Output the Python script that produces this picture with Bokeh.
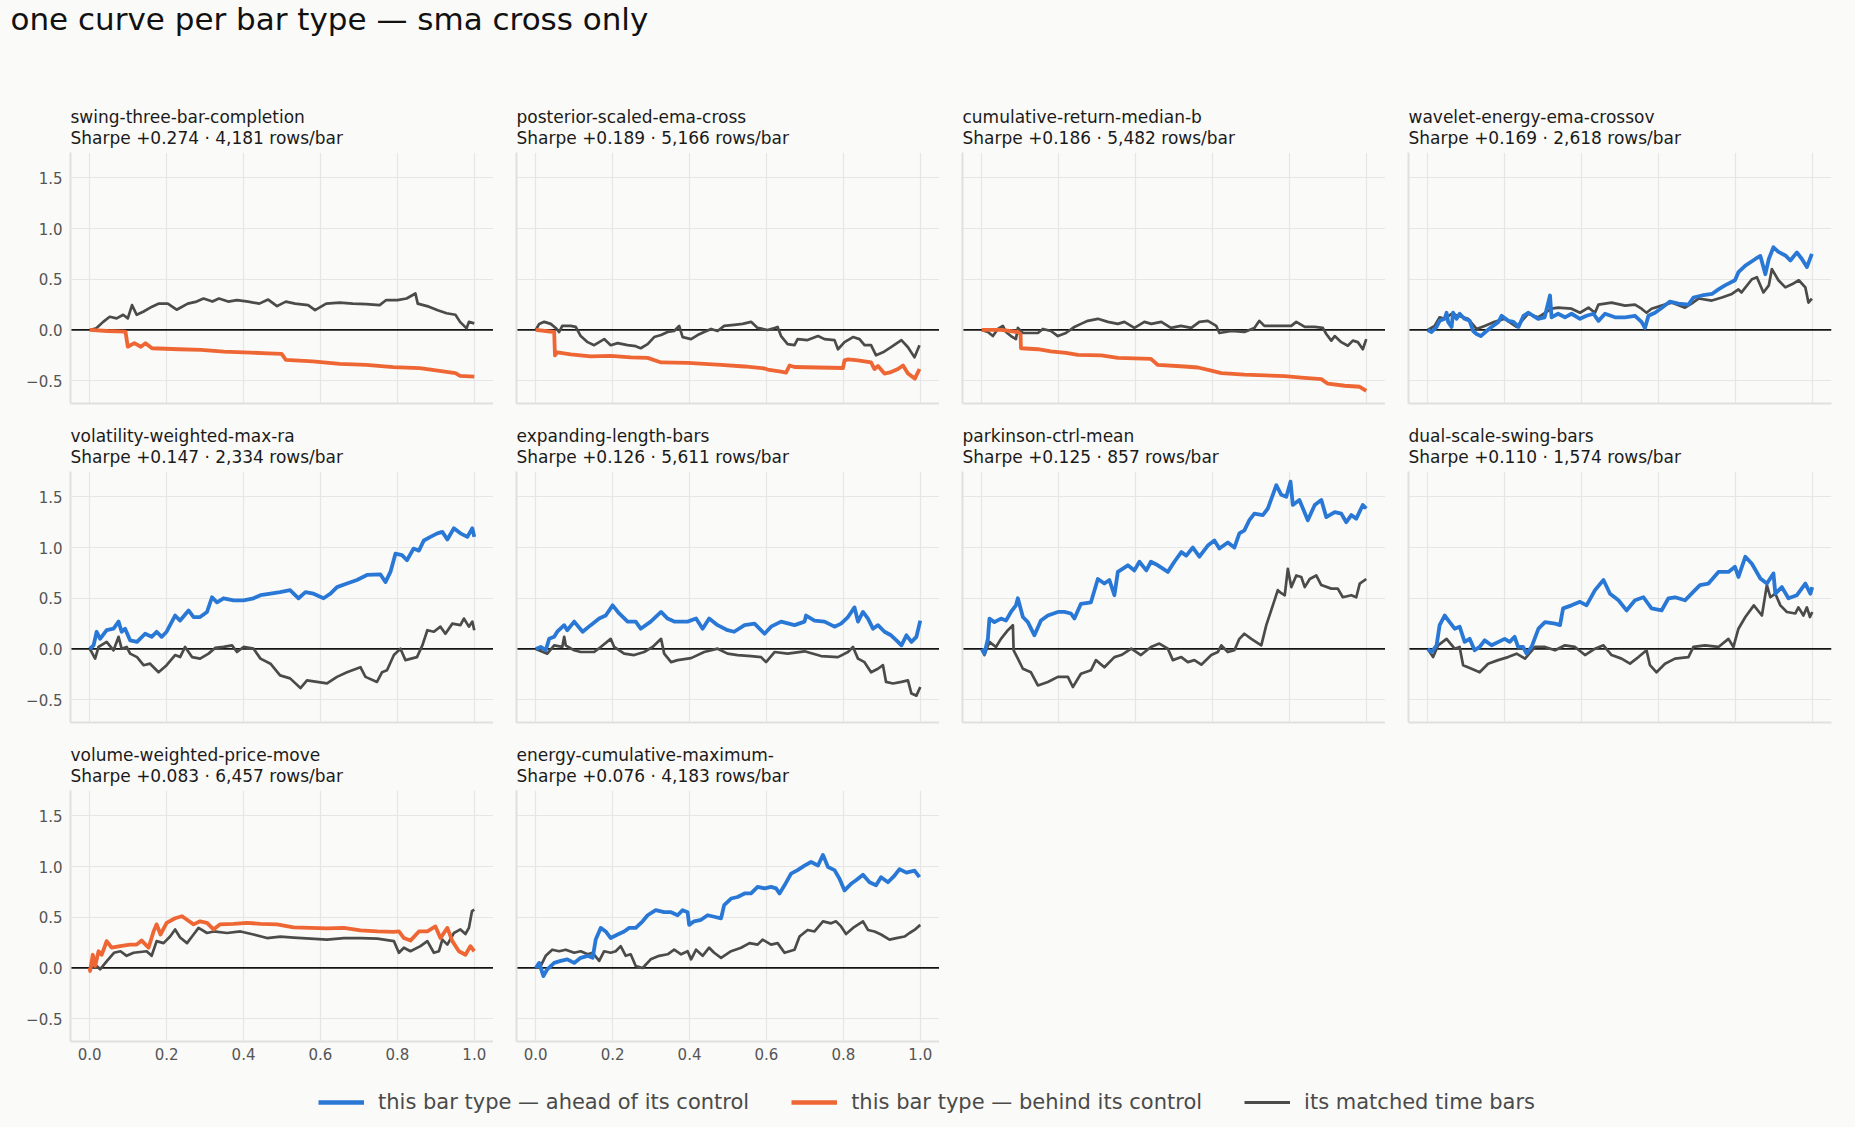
from bokeh.plotting import figure
from bokeh.layouts import gridplot, column
from bokeh.models import (Span, Title, Legend, LegendItem, FixedTicker, Range1d, ColumnDataSource,
                          PrintfTickFormatter, Label)
from bokeh.embed import file_html
from bokeh.resources import INLINE

# ---------------- data ----------------
CHART_TITLE = "one curve per bar type — sma cross only"
NAMES = ["swing-three-bar-completion", "posterior-scaled-ema-cross", "cumulative-return-median-b",
         "wavelet-energy-ema-crossov", "volatility-weighted-max-ra", "expanding-length-bars",
         "parkinson-ctrl-mean", "dual-scale-swing-bars", "volume-weighted-price-move",
         "energy-cumulative-maximum-"]
SHARPE = [0.274, 0.189, 0.186, 0.169, 0.147, 0.126, 0.125, 0.110, 0.083, 0.076]
ROWS_PER_BAR = [4181, 5166, 5482, 2618, 2334, 5611, 857, 1574, 6457, 4183]
LEGEND_LABELS = ["this bar type — ahead of its control",
                 "this bar type — behind its control",
                 "its matched time bars"]
X_TICKS = [0.0, 0.2, 0.4, 0.6, 0.8, 1.0]
Y_TICKS = [-0.5, 0.0, 0.5, 1.0, 1.5]
Y_TICK_LABELS = ["−0.5", "0.0", "0.5", "1.0", "1.5"]

P1_BAR_X = [0, 0.046, 0.093, 0.099, 0.116, 0.133, 0.145, 0.162, 0.232, 0.290, 0.348, 0.418, 0.464, 0.499,
            0.510, 0.580, 0.650, 0.719, 0.789, 0.858, 0.905, 0.951, 0.963, 1.0]
P1_BAR_Y = [0, -0.01, -0.016, -0.165, -0.13, -0.165, -0.13, -0.18, -0.19, -0.197, -0.213, -0.223, -0.23,
            -0.236, -0.295, -0.31, -0.335, -0.345, -0.367, -0.377, -0.40, -0.426, -0.452, -0.459]
P1_CTRL_X = [0, 0.017, 0.035, 0.052, 0.070, 0.087, 0.099, 0.110, 0.122, 0.139, 0.162, 0.180, 0.203, 0.226,
             0.255, 0.278, 0.296, 0.319, 0.336, 0.360, 0.383, 0.412, 0.441, 0.464, 0.487, 0.510, 0.534,
             0.568, 0.586, 0.615, 0.650, 0.684, 0.719, 0.754, 0.771, 0.800, 0.824, 0.847, 0.853, 0.882,
             0.905, 0.928, 0.951, 0.963, 0.980, 0.986, 1.0]
P1_CTRL_Y = [0, 0.016, 0.08, 0.13, 0.115, 0.15, 0.115, 0.245, 0.15, 0.18, 0.23, 0.26, 0.26, 0.20, 0.26,
             0.28, 0.31, 0.28, 0.31, 0.28, 0.295, 0.28, 0.26, 0.30, 0.235, 0.28, 0.26, 0.245, 0.195, 0.26,
             0.27, 0.26, 0.255, 0.245, 0.295, 0.295, 0.31, 0.36, 0.26, 0.23, 0.195, 0.165, 0.15, 0.08,
             0.016, 0.08, 0.065]

P2_BAR_X = [0, 0.048, 0.050, 0.056, 0.091, 0.143, 0.195, 0.247, 0.291, 0.326, 0.395, 0.482, 0.543, 0.595,
            0.603, 0.638, 0.651, 0.660, 0.673, 0.734, 0.799, 0.803, 0.812, 0.838, 0.872, 0.881, 0.890,
            0.907, 0.924, 0.942, 0.955, 0.968, 0.986, 0.998]
P2_BAR_Y = [0, -0.02, -0.25, -0.22, -0.24, -0.26, -0.255, -0.27, -0.275, -0.32, -0.325, -0.345, -0.36,
            -0.38, -0.39, -0.41, -0.42, -0.35, -0.365, -0.37, -0.375, -0.30, -0.29, -0.30, -0.32, -0.385,
            -0.355, -0.43, -0.415, -0.385, -0.35, -0.43, -0.48, -0.385]
P2_CTRL_X = [0, 0.009, 0.022, 0.039, 0.052, 0.061, 0.069, 0.091, 0.104, 0.117, 0.135, 0.152, 0.165, 0.178,
             0.195, 0.213, 0.239, 0.260, 0.273, 0.291, 0.308, 0.326, 0.343, 0.360, 0.373, 0.382, 0.404,
             0.421, 0.438, 0.456, 0.473, 0.490, 0.516, 0.538, 0.560, 0.577, 0.603, 0.621, 0.629, 0.638,
             0.655, 0.673, 0.681, 0.707, 0.734, 0.751, 0.777, 0.786, 0.803, 0.825, 0.842, 0.855, 0.872,
             0.885, 0.903, 0.924, 0.951, 0.968, 0.985, 0.998]
P2_CTRL_Y = [0, 0.06, 0.08, 0.06, 0.02, -0.02, 0.04, 0.04, 0.03, -0.06, -0.12, -0.15, -0.12, -0.09, -0.15,
             -0.13, -0.15, -0.16, -0.18, -0.14, -0.07, -0.05, -0.02, -0.01, 0.04, -0.07, -0.09, -0.05,
             -0.02, 0.01, -0.01, 0.04, 0.05, 0.06, 0.08, 0.02, 0, 0.02, 0.03, -0.06, -0.14, -0.15, -0.09,
             -0.10, -0.06, -0.09, -0.10, -0.19, -0.12, -0.07, -0.09, -0.15, -0.15, -0.25, -0.22, -0.17,
             -0.10, -0.17, -0.27, -0.15]

P3_BAR_X = [0, 0.050, 0.094, 0.101, 0.102, 0.146, 0.180, 0.219, 0.250, 0.311, 0.354, 0.440, 0.458, 0.527,
            0.562, 0.597, 0.623, 0.683, 0.788, 0.831, 0.883, 0.900, 0.944, 0.983, 1.0]
P3_BAR_Y = [0, 0, -0.02, -0.04, -0.18, -0.19, -0.21, -0.225, -0.245, -0.25, -0.275, -0.285, -0.345, -0.36,
            -0.37, -0.40, -0.425, -0.44, -0.455, -0.47, -0.485, -0.53, -0.55, -0.56, -0.60]
P3_CTRL_X = [0, 0.016, 0.029, 0.042, 0.055, 0.063, 0.076, 0.089, 0.094, 0.107, 0.146, 0.159, 0.180, 0.198,
             0.219, 0.241, 0.258, 0.276, 0.302, 0.328, 0.354, 0.371, 0.397, 0.423, 0.441, 0.467, 0.492,
             0.518, 0.545, 0.566, 0.588, 0.610, 0.618, 0.649, 0.683, 0.709, 0.722, 0.735, 0.805, 0.818,
             0.840, 0.866, 0.887, 0.896, 0.909, 0.918, 0.935, 0.952, 0.965, 0.978, 0.991, 1.0]
P3_CTRL_Y = [0, -0.02, -0.06, 0.01, 0.04, -0.02, -0.06, -0.09, 0.02, -0.03, -0.03, 0.01, -0.01, -0.06,
             -0.03, 0.03, 0.06, 0.09, 0.11, 0.08, 0.06, 0.08, 0.02, 0.08, 0.06, 0.08, 0.02, 0.04, 0.02,
             0.08, 0.09, 0.04, -0.03, -0.01, -0.02, 0.02, 0.09, 0.04, 0.04, 0.08, 0.03, 0.03, 0.02, -0.04,
             -0.105, -0.06, -0.12, -0.155, -0.105, -0.12, -0.19, -0.09]

P4_BAR_X = [0, 0.010, 0.023, 0.031, 0.044, 0.049, 0.053, 0.062, 0.066, 0.075, 0.083, 0.096, 0.109, 0.118,
            0.127, 0.138, 0.153, 0.166, 0.184, 0.192, 0.210, 0.223, 0.236, 0.249, 0.262, 0.274, 0.287,
            0.304, 0.318, 0.322, 0.339, 0.357, 0.374, 0.396, 0.413, 0.431, 0.444, 0.461, 0.487, 0.513,
            0.539, 0.556, 0.565, 0.574, 0.591, 0.609, 0.630, 0.652, 0.678, 0.691, 0.713, 0.739, 0.756,
            0.773, 0.799, 0.808, 0.826, 0.852, 0.865, 0.878, 0.887, 0.899, 0.912, 0.930, 0.943, 0.960,
            0.973, 0.986, 0.999]
P4_BAR_Y = [0, -0.02, 0.03, 0.09, 0.11, 0.17, 0.08, 0.03, 0.17, 0.11, 0.16, 0.11, 0.09, -0.01, -0.04, -0.06,
            -0.01, 0.03, 0.08, 0.14, 0.09, 0.08, 0.03, 0.14, 0.17, 0.14, 0.11, 0.125, 0.34, 0.125, 0.16,
            0.125, 0.16, 0.11, 0.14, 0.16, 0.09, 0.16, 0.125, 0.125, 0.14, 0.08, 0.02, 0.14, 0.17, 0.22,
            0.28, 0.26, 0.25, 0.32, 0.34, 0.355, 0.40, 0.44, 0.49, 0.57, 0.635, 0.70, 0.73, 0.55, 0.70,
            0.815, 0.77, 0.735, 0.685, 0.765, 0.70, 0.62, 0.75]
P4_CTRL_X = [0, 0.018, 0.031, 0.044, 0.062, 0.079, 0.105, 0.127, 0.148, 0.174, 0.200, 0.231, 0.261, 0.287,
             0.322, 0.339, 0.374, 0.396, 0.418, 0.435, 0.444, 0.478, 0.513, 0.539, 0.556, 0.569, 0.582,
             0.608, 0.634, 0.669, 0.686, 0.704, 0.739, 0.765, 0.791, 0.808, 0.816, 0.843, 0.856, 0.873,
             0.887, 0.895, 0.912, 0.930, 0.947, 0.965, 0.982, 0.990, 0.999]
P4_CTRL_Y = [0, 0.04, 0.125, 0.11, 0.16, 0.14, 0.11, 0.01, 0.04, 0.08, 0.11, 0.03, 0.16, 0.125, 0.21, 0.22,
             0.21, 0.17, 0.22, 0.17, 0.25, 0.27, 0.24, 0.25, 0.21, 0.17, 0.21, 0.24, 0.27, 0.22, 0.26,
             0.31, 0.29, 0.32, 0.355, 0.40, 0.37, 0.50, 0.52, 0.37, 0.44, 0.60, 0.49, 0.42, 0.45, 0.49,
             0.42, 0.27, 0.31]

P5_BAR_X = [0, 0.010, 0.018, 0.027, 0.044, 0.062, 0.075, 0.083, 0.092, 0.105, 0.123, 0.144, 0.161, 0.174,
            0.187, 0.200, 0.222, 0.235, 0.257, 0.270, 0.287, 0.305, 0.318, 0.331, 0.348, 0.374, 0.400,
            0.426, 0.444, 0.470, 0.495, 0.521, 0.543, 0.561, 0.582, 0.608, 0.626, 0.643, 0.669, 0.695,
            0.721, 0.756, 0.769, 0.782, 0.795, 0.812, 0.825, 0.842, 0.856, 0.869, 0.886, 0.904, 0.917,
            0.930, 0.947, 0.964, 0.982, 0.995, 1.0]
P5_BAR_Y = [0, 0.035, 0.17, 0.10, 0.185, 0.20, 0.27, 0.17, 0.20, 0.085, 0.07, 0.15, 0.12, 0.17, 0.12, 0.17,
            0.33, 0.28, 0.38, 0.315, 0.315, 0.365, 0.51, 0.46, 0.50, 0.48, 0.48, 0.50, 0.53, 0.545, 0.56,
            0.58, 0.50, 0.56, 0.545, 0.50, 0.545, 0.61, 0.645, 0.68, 0.73, 0.735, 0.66, 0.76, 0.94, 0.925,
            0.875, 0.99, 0.97, 1.07, 1.105, 1.14, 1.155, 1.08, 1.19, 1.14, 1.105, 1.19, 1.105]
P5_CTRL_X = [0, 0.005, 0.014, 0.023, 0.044, 0.062, 0.075, 0.083, 0.096, 0.105, 0.123, 0.140, 0.157, 0.179,
             0.200, 0.222, 0.235, 0.248, 0.266, 0.287, 0.309, 0.326, 0.348, 0.370, 0.383, 0.400, 0.426,
             0.444, 0.470, 0.495, 0.521, 0.548, 0.565, 0.591, 0.617, 0.643, 0.669, 0.704, 0.717, 0.747,
             0.760, 0.773, 0.791, 0.808, 0.821, 0.851, 0.865, 0.878, 0.895, 0.912, 0.925, 0.943, 0.964,
             0.973, 0.986, 0.995, 1.0]
P5_CTRL_Y = [0, -0.03, -0.095, 0.02, 0.07, -0.013, 0.12, 0.003, 0.02, -0.046, -0.08, -0.16, -0.145, -0.23,
             -0.16, -0.06, -0.08, 0.02, -0.08, -0.095, -0.046, 0.01, 0.02, 0.036, -0.03, 0.02, 0.003,
             -0.095, -0.145, -0.26, -0.29, -0.385, -0.31, -0.325, -0.34, -0.275, -0.23, -0.18, -0.275,
             -0.325, -0.23, -0.21, -0.06, 0.003, -0.11, -0.08, 0.036, 0.185, 0.17, 0.22, 0.15, 0.25, 0.235,
             0.30, 0.22, 0.27, 0.185]

P6_BAR_X = [0, 0.013, 0.026, 0.035, 0.048, 0.056, 0.074, 0.082, 0.100, 0.122, 0.143, 0.165, 0.182, 0.200,
            0.217, 0.239, 0.260, 0.273, 0.299, 0.326, 0.343, 0.360, 0.395, 0.417, 0.434, 0.451, 0.473,
            0.499, 0.516, 0.543, 0.569, 0.595, 0.612, 0.638, 0.673, 0.699, 0.703, 0.725, 0.751, 0.777,
            0.794, 0.812, 0.829, 0.838, 0.851, 0.864, 0.877, 0.890, 0.907, 0.924, 0.938, 0.951, 0.964,
            0.977, 0.990, 1.0]
P6_BAR_Y = [0, 0.02, -0.013, 0.10, 0.12, 0.17, 0.235, 0.185, 0.27, 0.17, 0.235, 0.30, 0.33, 0.43, 0.35,
            0.27, 0.27, 0.20, 0.27, 0.365, 0.30, 0.27, 0.27, 0.30, 0.20, 0.30, 0.235, 0.185, 0.17, 0.235,
            0.25, 0.15, 0.22, 0.27, 0.235, 0.27, 0.33, 0.28, 0.27, 0.22, 0.25, 0.315, 0.41, 0.27, 0.365,
            0.30, 0.20, 0.235, 0.17, 0.135, 0.085, 0.036, 0.135, 0.07, 0.12, 0.28]
P6_CTRL_X = [0, 0.030, 0.048, 0.069, 0.074, 0.078, 0.100, 0.117, 0.152, 0.169, 0.195, 0.204, 0.230, 0.256,
             0.282, 0.304, 0.326, 0.334, 0.352, 0.369, 0.404, 0.438, 0.473, 0.499, 0.525, 0.560, 0.586,
             0.599, 0.621, 0.655, 0.699, 0.742, 0.786, 0.812, 0.825, 0.838, 0.855, 0.872, 0.890, 0.903,
             0.911, 0.929, 0.951, 0.968, 0.977, 0.990, 1.0]
P6_CTRL_Y = [0, -0.046, 0.036, 0.02, 0.12, 0.036, -0.013, -0.03, -0.03, 0.02, 0.10, 0.02, -0.046, -0.06,
             -0.03, 0.02, 0.10, -0.046, -0.13, -0.11, -0.09, -0.03, 0.003, -0.046, -0.06, -0.07, -0.08,
             -0.13, -0.03, -0.046, -0.023, -0.07, -0.08, -0.03, 0.02, -0.095, -0.13, -0.23, -0.195, -0.16,
             -0.325, -0.34, -0.325, -0.31, -0.44, -0.46, -0.375]

P7_BAR_X = [0, 0.007, 0.016, 0.020, 0.033, 0.050, 0.063, 0.076, 0.089, 0.094, 0.107, 0.120, 0.137, 0.154,
            0.172, 0.198, 0.215, 0.232, 0.241, 0.258, 0.284, 0.302, 0.319, 0.332, 0.345, 0.354, 0.380,
            0.397, 0.410, 0.428, 0.440, 0.458, 0.484, 0.501, 0.519, 0.532, 0.549, 0.566, 0.588, 0.605,
            0.618, 0.640, 0.657, 0.670, 0.683, 0.696, 0.709, 0.731, 0.744, 0.757, 0.766, 0.779, 0.792,
            0.803, 0.809, 0.826, 0.848, 0.866, 0.883, 0.896, 0.918, 0.935, 0.948, 0.961, 0.974, 0.991, 1.0]
P7_BAR_Y = [0, -0.046, 0.10, 0.30, 0.265, 0.30, 0.28, 0.365, 0.43, 0.50, 0.315, 0.265, 0.135, 0.28, 0.33,
            0.365, 0.365, 0.35, 0.30, 0.445, 0.46, 0.69, 0.645, 0.68, 0.53, 0.76, 0.825, 0.775, 0.86,
            0.775, 0.86, 0.825, 0.76, 0.86, 0.955, 0.92, 1.00, 0.91, 1.02, 1.07, 0.99, 1.05, 1.00, 1.14,
            1.17, 1.27, 1.335, 1.32, 1.385, 1.52, 1.615, 1.52, 1.50, 1.65, 1.42, 1.47, 1.27, 1.42, 1.47,
            1.30, 1.35, 1.335, 1.25, 1.32, 1.285, 1.42, 1.385]
P7_CTRL_X = [0, 0.007, 0.020, 0.037, 0.050, 0.068, 0.081, 0.083, 0.094, 0.107, 0.128, 0.146, 0.172, 0.198,
             0.224, 0.237, 0.258, 0.284, 0.297, 0.319, 0.345, 0.363, 0.389, 0.414, 0.440, 0.462, 0.484,
             0.497, 0.519, 0.536, 0.553, 0.571, 0.597, 0.614, 0.623, 0.640, 0.657, 0.670, 0.683, 0.701,
             0.727, 0.740, 0.757, 0.770, 0.779, 0.788, 0.796, 0.805, 0.818, 0.831, 0.840, 0.853, 0.870,
             0.883, 0.909, 0.926, 0.939, 0.961, 0.974, 0.983, 1.0]
P7_CTRL_Y = [0, -0.06, 0.07, 0.02, 0.10, 0.185, 0.235, -0.013, -0.095, -0.195, -0.23, -0.36, -0.325,
             -0.275, -0.275, -0.375, -0.245, -0.21, -0.11, -0.18, -0.08, -0.06, 0.003, -0.06, 0.02, 0.053,
             0.003, -0.11, -0.08, -0.13, -0.11, -0.155, -0.06, -0.03, 0.036, -0.03, -0.013, 0.10, 0.15,
             0.10, 0.036, 0.235, 0.43, 0.58, 0.55, 0.53, 0.79, 0.61, 0.725, 0.71, 0.61, 0.69, 0.725, 0.63,
             0.595, 0.595, 0.51, 0.53, 0.51, 0.645, 0.69]

P8_BAR_X = [0, 0.010, 0.023, 0.031, 0.044, 0.057, 0.070, 0.083, 0.096, 0.109, 0.122, 0.135, 0.148, 0.166,
            0.184, 0.200, 0.213, 0.226, 0.235, 0.248, 0.257, 0.270, 0.288, 0.305, 0.331, 0.344, 0.352,
            0.374, 0.396, 0.413, 0.435, 0.457, 0.474, 0.496, 0.517, 0.539, 0.561, 0.582, 0.608, 0.626,
            0.643, 0.669, 0.686, 0.708, 0.730, 0.756, 0.782, 0.799, 0.808, 0.826, 0.843, 0.865, 0.882,
            0.899, 0.904, 0.921, 0.938, 0.960, 0.982, 0.995, 1.0]
P8_BAR_Y = [0, -0.03, 0.036, 0.235, 0.33, 0.265, 0.20, 0.22, 0.07, 0.10, -0.013, 0.02, 0.085, 0.036, 0.07,
            0.10, 0.07, 0.12, 0.02, 0.02, -0.046, 0.02, 0.20, 0.265, 0.25, 0.235, 0.40, 0.43, 0.465, 0.43,
            0.58, 0.68, 0.545, 0.48, 0.38, 0.48, 0.51, 0.40, 0.38, 0.50, 0.51, 0.48, 0.545, 0.63, 0.645,
            0.76, 0.76, 0.81, 0.71, 0.91, 0.84, 0.695, 0.645, 0.745, 0.545, 0.61, 0.50, 0.53, 0.645,
            0.545, 0.61]
P8_CTRL_X = [0, 0.014, 0.027, 0.049, 0.070, 0.083, 0.092, 0.114, 0.135, 0.157, 0.183, 0.209, 0.231, 0.253,
             0.279, 0.305, 0.331, 0.357, 0.383, 0.409, 0.435, 0.457, 0.478, 0.504, 0.526, 0.548, 0.569,
             0.578, 0.595, 0.617, 0.643, 0.678, 0.691, 0.721, 0.756, 0.782, 0.795, 0.808, 0.826, 0.848,
             0.869, 0.882, 0.891, 0.904, 0.917, 0.934, 0.956, 0.964, 0.977, 0.986, 0.994, 1.0]
P8_CTRL_Y = [0, -0.08, 0.036, 0.10, 0.003, 0.02, -0.16, -0.195, -0.23, -0.145, -0.11, -0.08, -0.046,
             -0.095, 0.02, 0.02, -0.013, 0.036, 0.02, -0.06, 0.003, 0.036, -0.06, -0.095, -0.145, -0.08,
             -0.013, -0.16, -0.23, -0.145, -0.095, -0.08, 0.02, 0.036, 0.02, 0.10, 0.02, 0.20, 0.315, 0.43,
             0.33, 0.63, 0.51, 0.545, 0.43, 0.365, 0.35, 0.41, 0.33, 0.41, 0.315, 0.365]

P9_BAR_X = [0, 0.001, 0.008, 0.014, 0.023, 0.031, 0.036, 0.044, 0.057, 0.079, 0.105, 0.122, 0.135, 0.153,
            0.166, 0.174, 0.184, 0.200, 0.222, 0.240, 0.253, 0.270, 0.287, 0.305, 0.322, 0.339, 0.374,
            0.409, 0.444, 0.487, 0.530, 0.574, 0.617, 0.661, 0.704, 0.748, 0.791, 0.804, 0.817, 0.834,
            0.856, 0.878, 0.899, 0.912, 0.930, 0.943, 0.960, 0.977, 0.990, 1.0]
P9_BAR_Y = [0, -0.03, 0.13, 0.02, 0.165, 0.13, 0.18, 0.265, 0.20, 0.215, 0.23, 0.23, 0.27, 0.20, 0.36,
            0.43, 0.33, 0.445, 0.49, 0.51, 0.475, 0.43, 0.46, 0.445, 0.38, 0.43, 0.435, 0.445, 0.435, 0.43,
            0.40, 0.395, 0.39, 0.395, 0.37, 0.36, 0.355, 0.36, 0.295, 0.27, 0.36, 0.36, 0.41, 0.295, 0.395,
            0.265, 0.165, 0.13, 0.215, 0.165]
P9_CTRL_X = [0, 0.018, 0.027, 0.045, 0.063, 0.080, 0.096, 0.114, 0.148, 0.161, 0.174, 0.192, 0.209, 0.222,
             0.235, 0.253, 0.270, 0.283, 0.305, 0.322, 0.357, 0.392, 0.426, 0.461, 0.496, 0.530, 0.574,
             0.617, 0.661, 0.704, 0.748, 0.791, 0.804, 0.817, 0.834, 0.860, 0.878, 0.895, 0.908, 0.917,
             0.930, 0.947, 0.964, 0.977, 0.986, 0.994, 1.0]
P9_CTRL_Y = [0, 0.02, -0.013, 0.07, 0.15, 0.165, 0.12, 0.15, 0.165, 0.12, 0.265, 0.245, 0.31, 0.38, 0.30,
             0.245, 0.33, 0.395, 0.345, 0.36, 0.345, 0.36, 0.33, 0.295, 0.31, 0.30, 0.29, 0.28, 0.295,
             0.295, 0.29, 0.265, 0.15, 0.20, 0.165, 0.215, 0.265, 0.15, 0.165, 0.28, 0.23, 0.345, 0.38,
             0.335, 0.395, 0.56, 0.575]

P10_BAR_X = [0, 0.009, 0.020, 0.030, 0.048, 0.065, 0.082, 0.100, 0.117, 0.135, 0.148, 0.156, 0.169, 0.182,
             0.195, 0.213, 0.230, 0.243, 0.260, 0.278, 0.291, 0.312, 0.334, 0.352, 0.369, 0.382, 0.395,
             0.399, 0.412, 0.430, 0.447, 0.464, 0.482, 0.490, 0.508, 0.525, 0.543, 0.560, 0.577, 0.595,
             0.612, 0.625, 0.634, 0.647, 0.664, 0.681, 0.699, 0.716, 0.734, 0.747, 0.760, 0.777, 0.790,
             0.803, 0.820, 0.833, 0.851, 0.868, 0.885, 0.898, 0.916, 0.933, 0.946, 0.964, 0.985, 0.998]
P10_BAR_Y = [0, 0.05, -0.08, -0.013, 0.05, 0.07, 0.085, 0.05, 0.10, 0.12, 0.10, 0.28, 0.395, 0.36, 0.295,
             0.33, 0.36, 0.395, 0.395, 0.46, 0.52, 0.57, 0.55, 0.55, 0.52, 0.57, 0.55, 0.425, 0.46, 0.475,
             0.52, 0.505, 0.49, 0.62, 0.685, 0.70, 0.735, 0.735, 0.80, 0.785, 0.80, 0.785, 0.735, 0.815,
             0.93, 0.965, 1.01, 1.045, 1.01, 1.115, 0.995, 0.965, 0.88, 0.765, 0.83, 0.865, 0.92, 0.845,
             0.815, 0.895, 0.845, 0.91, 0.975, 0.94, 0.96, 0.895]
P10_CTRL_X = [0, 0.013, 0.026, 0.043, 0.061, 0.078, 0.100, 0.117, 0.135, 0.148, 0.165, 0.178, 0.195, 0.208,
              0.221, 0.234, 0.247, 0.260, 0.278, 0.299, 0.321, 0.343, 0.360, 0.378, 0.395, 0.404, 0.417,
              0.434, 0.451, 0.464, 0.482, 0.508, 0.534, 0.556, 0.577, 0.590, 0.612, 0.629, 0.647, 0.673,
              0.686, 0.707, 0.725, 0.747, 0.768, 0.781, 0.794, 0.807, 0.825, 0.851, 0.864, 0.881, 0.898,
              0.920, 0.938, 0.959, 0.972, 0.985, 1.0]
P10_CTRL_Y = [0, 0.02, 0.12, 0.18, 0.165, 0.18, 0.15, 0.165, 0.135, 0.15, 0.07, 0.165, 0.15, 0.165, 0.215,
              0.12, 0.135, 0.02, 0, 0.085, 0.12, 0.135, 0.18, 0.135, 0.165, 0.085, 0.18, 0.12, 0.20, 0.15,
              0.10, 0.165, 0.20, 0.245, 0.23, 0.28, 0.23, 0.245, 0.15, 0.18, 0.31, 0.375, 0.36, 0.46, 0.44,
              0.46, 0.41, 0.335, 0.395, 0.46, 0.375, 0.36, 0.33, 0.28, 0.295, 0.31, 0.345, 0.375, 0.425]

BAR_X = [P1_BAR_X, P2_BAR_X, P3_BAR_X, P4_BAR_X, P5_BAR_X, P6_BAR_X, P7_BAR_X, P8_BAR_X, P9_BAR_X, P10_BAR_X]
BAR_Y = [P1_BAR_Y, P2_BAR_Y, P3_BAR_Y, P4_BAR_Y, P5_BAR_Y, P6_BAR_Y, P7_BAR_Y, P8_BAR_Y, P9_BAR_Y, P10_BAR_Y]
CTRL_X = [P1_CTRL_X, P2_CTRL_X, P3_CTRL_X, P4_CTRL_X, P5_CTRL_X, P6_CTRL_X, P7_CTRL_X, P8_CTRL_X,
          P9_CTRL_X, P10_CTRL_X]
CTRL_Y = [P1_CTRL_Y, P2_CTRL_Y, P3_CTRL_Y, P4_CTRL_Y, P5_CTRL_Y, P6_CTRL_Y, P7_CTRL_Y, P8_CTRL_Y,
          P9_CTRL_Y, P10_CTRL_Y]

for a, b in list(zip(BAR_X, BAR_Y)) + list(zip(CTRL_X, CTRL_Y)):
    assert len(a) == len(b), (len(a), len(b))

# ---------------- style ----------------
FONT = "DejaVu Sans"
BG = "#fafaf8"
BLUE = "#2a78d6"
ORANGE = "#ee6633"
DARK = "#4b4b49"
GRID = "#e6e6e6"
AXIS = "#e0e0e0"
TICK_TEXT = "#555555"
FRAME_W, FRAME_H = 423, 251
PAGE_W = 1855


def style_title(t, size, standoff):
    t.text_font = FONT
    t.text_font_size = size
    t.text_font_style = "normal"
    t.text_color = "#1a1a1a"
    t.align = "left"
    t.offset = 0
    t.standoff = standoff


def make_panel(i):
    r, c = divmod(i, 4)
    show_x = r == 2
    show_y = c == 0
    p = figure(frame_width=FRAME_W, frame_height=FRAME_H,
               x_range=Range1d(-0.05, 1.05), y_range=Range1d(-0.725, 1.75),
               output_backend="svg", toolbar_location=None,
               min_border_left=70 if show_y else 23, min_border_right=24 if c == 3 else 0,
               min_border_top=60, min_border_bottom=30 if show_x else 8,
               background_fill_color=BG, border_fill_color=BG, outline_line_color=None)
    p.xgrid.ticker = FixedTicker(ticks=X_TICKS)
    p.ygrid.ticker = FixedTicker(ticks=Y_TICKS)
    p.grid.grid_line_color = GRID
    p.grid.grid_line_width = 1.2
    p.xaxis.ticker = FixedTicker(ticks=X_TICKS if show_x else [])
    p.yaxis.ticker = FixedTicker(ticks=Y_TICKS if show_y else [])
    p.xaxis.formatter = PrintfTickFormatter(format="%.1f")
    p.yaxis.formatter = PrintfTickFormatter(format="%.1f")
    p.yaxis.major_label_overrides = {t: l for t, l in zip(Y_TICKS, Y_TICK_LABELS)}
    for ax in (p.xaxis, p.yaxis):
        ax.axis_line_color = AXIS
        ax.axis_line_width = 2
        ax.major_tick_line_color = None
        ax.minor_tick_line_color = None
        ax.major_tick_out = 0
        ax.major_tick_in = 0
        ax.major_label_text_font = FONT
        ax.major_label_text_font_size = "15px"
        ax.major_label_text_color = TICK_TEXT
    p.xaxis.major_label_standoff = 6
    p.yaxis.major_label_standoff = 8

    p.add_layout(Span(location=0, dimension="width", line_color="#151515", line_width=1.8,
                      level="underlay"))

    ahead = BAR_Y[i][-1] >= CTRL_Y[i][-1]
    p.line(CTRL_X[i], CTRL_Y[i], line_color=DARK, line_width=2.7, line_join="round")
    p.line(BAR_X[i], BAR_Y[i], line_color=BLUE if ahead else ORANGE, line_width=3.8, line_join="round")

    # outer line: bar-type name; inner line (next to the frame): Sharpe summary
    p.title.text = NAMES[i]
    style_title(p.title, "17px", -13.3)
    sharpe_t = Title(text=f"Sharpe {SHARPE[i]:+.3f} · {ROWS_PER_BAR[i]:,} rows/bar")
    style_title(sharpe_t, "17px", 10)
    p.add_layout(sharpe_t, "above")
    return p


panels = [make_panel(i) for i in range(len(NAMES))]
rows = [panels[0:4], panels[4:8], panels[8:10] + [None, None]]
grid = gridplot(rows, toolbar_location=None)
grid.styles = {"background-color": BG}

header = figure(width=PAGE_W, height=92, output_backend="svg", toolbar_location=None,
                x_range=Range1d(0, 1), y_range=Range1d(0, 1),
                x_axis_location=None, y_axis_location=None, min_border=0,
                background_fill_color=BG, border_fill_color=BG, outline_line_color=None)
header.grid.visible = False
header.add_layout(Label(x=10, y=74, x_units="screen", y_units="screen", text=CHART_TITLE,
                        text_font=FONT, text_font_size="31px", text_color="#111111",
                        text_baseline="alphabetic", text_align="left"))

lg = figure(width=PAGE_W, height=56, output_backend="svg", toolbar_location=None,
            x_range=Range1d(0, 1), y_range=Range1d(0, 1),
            x_axis_location=None, y_axis_location=None, min_border=0,
            background_fill_color=BG, border_fill_color=BG, outline_line_color=None)
lg.grid.visible = False
src = ColumnDataSource(data=dict(x=[float("nan")], y=[float("nan")]))
items = []
for label, color, w in zip(LEGEND_LABELS, [BLUE, ORANGE, DARK], [4.5, 4.5, 3]):
    rr = lg.line("x", "y", source=src, line_color=color, line_width=w)
    items.append(LegendItem(label=label, renderers=[rr]))
legend = Legend(items=items, orientation="horizontal", location=(318, 13),
                glyph_width=46, glyph_height=24, label_standoff=14, spacing=42,
                padding=0, margin=0, border_line_color=None, background_fill_alpha=0,
                label_text_font=FONT, label_text_font_size="21px", label_text_color="#4a4a4a")
lg.add_layout(legend)

layout = column(header, grid, lg, styles={"background-color": BG})
open("out.html", "w").write(file_html(layout, INLINE))
